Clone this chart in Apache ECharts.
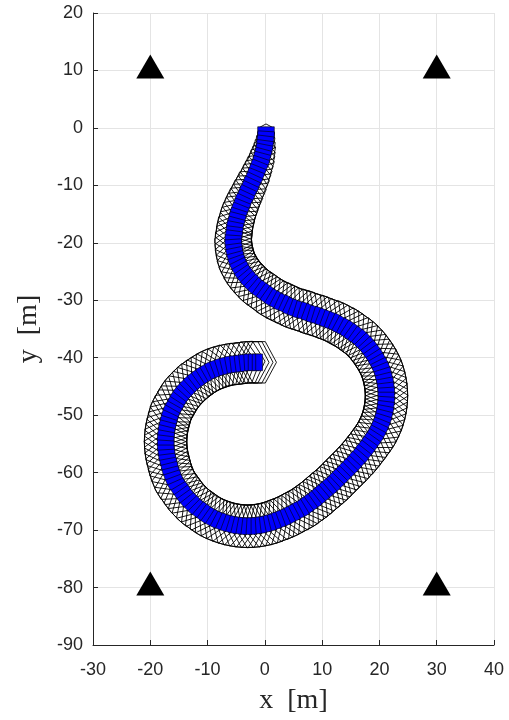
<!DOCTYPE html>
<html>
<head>
<meta charset="utf-8">
<script src="https://cdn.jsdelivr.net/npm/echarts@6.0.0/dist/echarts.min.js"></script>
<style>
  html, body { margin: 0; padding: 0; background: #ffffff; }
  #chart { width: 509px; height: 720px; }
</style>
</head>
<body>
<div id="chart"></div>
<script>
// Estimated vehicle poses along the driven path (metres)
const poseX = [
  0.2, 0.2, 0.1, 0.0, -0.1, -0.3, -0.5, -0.7, -1.0, -1.3,
  -1.6, -1.9, -2.3, -2.6, -3.0, -3.3, -3.7, -4.0, -4.3, -4.6,
  -4.8, -5.0, -5.2, -5.3, -5.4, -5.5, -5.5, -5.4, -5.3, -5.1,
  -4.9, -4.6, -4.2, -3.8, -3.3, -2.8, -2.2, -1.6, -0.9, -0.2,
  0.5, 1.2, 2.0, 2.7, 3.5, 4.2, 5.0, 5.8, 6.6, 7.4,
  8.2, 9.0, 9.8, 10.6, 11.4, 12.2, 12.9, 13.7, 14.4, 15.1,
  15.8, 16.5, 17.1, 17.7, 18.2, 18.7, 19.2, 19.6, 20.0, 20.3,
  20.6, 20.8, 21.0, 21.1, 21.2, 21.2, 21.2, 21.1, 21.0, 20.8,
  20.6, 20.3, 20.0, 19.6, 19.2, 18.7, 18.2, 17.7, 17.1, 16.6,
  16.0, 15.4, 14.8, 14.2, 13.6, 13.0, 12.4, 11.8, 11.2, 10.5,
  9.9, 9.2, 8.6, 7.9, 7.2, 6.5, 5.7, 5.0, 4.2, 3.4,
  2.6, 1.8, 1.0, 0.2, -0.6, -1.4, -2.2, -3.0, -3.8, -4.6,
  -5.4, -6.2, -7.0, -7.8, -8.6, -9.4, -10.1, -10.8, -11.5, -12.2,
  -12.8, -13.4, -14.0, -14.5, -15.0, -15.5, -15.9, -16.2, -16.5, -16.7,
  -16.9, -17.1, -17.2, -17.3, -17.3, -17.3, -17.2, -17.1, -16.9, -16.7,
  -16.5, -16.2, -15.8, -15.4, -15.0, -14.5, -14.0, -13.4, -12.8, -12.2,
  -11.5, -10.8, -10.1, -9.4, -8.6, -7.8, -7.0, -6.2, -5.4, -4.6,
  -3.8, -3.0, -2.3, -1.6, -1.0
];
const poseY = [
  -0.4, -1.2, -2.0, -2.8, -3.5, -4.3, -5.0, -5.8, -6.5, -7.3,
  -8.0, -8.8, -9.5, -10.3, -11.0, -11.8, -12.5, -13.3, -14.0, -14.8,
  -15.5, -16.3, -17.0, -17.8, -18.5, -19.3, -20.0, -20.8, -21.5, -22.3,
  -23.0, -23.7, -24.4, -25.1, -25.7, -26.3, -26.9, -27.5, -28.0, -28.5,
  -29.0, -29.5, -29.9, -30.3, -30.6, -31.0, -31.3, -31.6, -31.8, -32.1,
  -32.4, -32.6, -32.9, -33.2, -33.5, -33.8, -34.2, -34.6, -35.0, -35.5,
  -36.0, -36.5, -37.1, -37.7, -38.3, -39.0, -39.7, -40.4, -41.1, -41.8,
  -42.6, -43.4, -44.2, -45.0, -45.8, -46.6, -47.4, -48.2, -49.0, -49.8,
  -50.6, -51.4, -52.1, -52.9, -53.6, -54.3, -55.0, -55.7, -56.4, -57.1,
  -57.7, -58.4, -59.0, -59.6, -60.2, -60.8, -61.4, -62.0, -62.5, -63.1,
  -63.6, -64.2, -64.7, -65.2, -65.7, -66.2, -66.6, -67.0, -67.4, -67.8,
  -68.1, -68.4, -68.7, -68.9, -69.1, -69.2, -69.3, -69.3, -69.3, -69.2,
  -69.1, -68.9, -68.7, -68.4, -68.1, -67.7, -67.3, -66.8, -66.3, -65.8,
  -65.2, -64.6, -63.9, -63.2, -62.5, -61.8, -61.0, -60.2, -59.4, -58.6,
  -57.8, -57.0, -56.2, -55.4, -54.6, -53.8, -53.0, -52.2, -51.4, -50.6,
  -49.9, -49.1, -48.4, -47.7, -47.0, -46.3, -45.7, -45.1, -44.5, -44.0,
  -43.5, -43.0, -42.6, -42.2, -41.9, -41.6, -41.4, -41.2, -41.1, -41.0,
  -40.9, -40.8, -40.8, -40.8, -40.8
];
// Lateral spread of the position estimate at each pose (metres, full width)
const spread = [
  2.6, 2.9, 3.2, 3.5, 3.8, 4.05, 4.3, 4.5, 4.7, 4.9,
  5.05, 5.2, 5.35, 5.5, 5.6, 5.7, 5.8, 5.9, 6.0, 6.05,
  6.1, 6.15, 6.2, 6.25, 6.3, 6.35, 6.4, 6.45, 6.5, 6.55,
  6.6, 6.65, 6.7, 6.75, 6.8, 6.85, 6.9, 6.9, 6.95, 7.0,
  7.0, 7.05, 7.05, 7.1, 7.1, 7.1, 7.15, 7.15, 7.2, 7.2,
  7.2, 7.2, 7.2, 7.2, 7.2, 7.25, 7.3, 7.3, 7.3, 7.3,
  7.3, 7.3, 7.35, 7.35, 7.35, 7.4, 7.4, 7.4, 7.4, 7.4,
  7.4, 7.4, 7.4, 7.4, 7.4, 7.4, 7.4, 7.4, 7.4, 7.4,
  7.4, 7.4, 7.4, 7.4, 7.4, 7.4, 7.4, 7.4, 7.4, 7.4,
  7.4, 7.4, 7.4, 7.4, 7.4, 7.4, 7.4, 7.4, 7.4, 7.4,
  7.4, 7.4, 7.4, 7.4, 7.4, 7.4, 7.4, 7.4, 7.4, 7.4,
  7.4, 7.4, 7.4, 7.4, 7.4, 7.4, 7.4, 7.4, 7.4, 7.4,
  7.4, 7.4, 7.4, 7.4, 7.4, 7.4, 7.4, 7.4, 7.4, 7.4,
  7.4, 7.4, 7.4, 7.4, 7.4, 7.4, 7.4, 7.4, 7.4, 7.4,
  7.4, 7.4, 7.4, 7.4, 7.4, 7.4, 7.4, 7.4, 7.4, 7.4,
  7.4, 7.4, 7.4, 7.4, 7.4, 7.4, 7.4, 7.4, 7.4, 7.4,
  7.3, 7.3, 7.3, 7.3, 7.3, 7.3, 7.2, 7.2, 7.2, 7.2,
  7.2, 7.2, 7.2, 7.2, 7.2
];
// Landmark beacons
const beaconX = [-20, 30, -20, 30];
const beaconY = [10, 10, -80, -80];

// Heading at each pose from its neighbours
const heading = poseX.map((x, i) => {
  const a = Math.max(0, i - 1), b = Math.min(poseX.length - 1, i + 1);
  return Math.atan2(poseY[b] - poseY[a], poseX[b] - poseX[a]);
});
const poses = poseX.map((x, i) => [x, poseY[i], heading[i], spread[i]]);

// Vehicle body half-extents (along, across) in metres
const BODY_HALF_LEN = 0.6;
const BODY_HALF_WID = 1.45;

function placePolygon(api, cx, cy, h, pts) {
  const c = Math.cos(h), s = Math.sin(h);
  return pts.map(([u, v]) => api.coord([cx + u * c - v * s, cy + u * s + v * c]));
}

const chart = echarts.init(document.getElementById('chart'), null, { renderer: 'canvas' });

const axisColor = '#262626';
const tickFont = 'Liberation Sans, Arial, Helvetica, sans-serif';
const titleFont = 'Liberation Serif, Times New Roman, serif';

chart.setOption({
  animation: false,
  backgroundColor: '#ffffff',
  grid: { left: 93, right: 15, top: 13, bottom: 75, containLabel: false },
  xAxis: {
    type: 'value', min: -30, max: 40, interval: 10,
    name: 'x  [m]', nameLocation: 'middle', nameGap: 42,
    nameTextStyle: { fontFamily: titleFont, fontSize: 28, color: axisColor },
    axisLine: { show: true, onZero: false, lineStyle: { color: axisColor, width: 1 } },
    axisTick: { show: true, inside: true, length: 5, lineStyle: { color: axisColor } },
    axisLabel: { fontFamily: tickFont, fontSize: 18, color: axisColor, margin: 16 },
    splitLine: { show: true, lineStyle: { color: '#e4e4e4', width: 1 } }
  },
  yAxis: {
    type: 'value', min: -90, max: 20, interval: 10,
    name: 'y  [m]', nameLocation: 'middle', nameGap: 50, nameRotate: 90,
    nameTextStyle: { fontFamily: titleFont, fontSize: 28, color: axisColor },
    axisLine: { show: true, onZero: false, lineStyle: { color: axisColor, width: 1 } },
    axisTick: { show: true, inside: true, length: 5, lineStyle: { color: axisColor } },
    axisLabel: { fontFamily: tickFont, fontSize: 18, color: axisColor, margin: 10 },
    splitLine: { show: true, lineStyle: { color: '#e4e4e4', width: 1 } }
  },
  series: [
    {
      // uncertainty envelope around each pose
      type: 'custom',
      data: poses,
      encode: { x: 0, y: 1 },
      renderItem: function (params, api) {
        const cx = api.value(0), cy = api.value(1), h = api.value(2), w = api.value(3);
        const b = w / 2, a = 0.42 * w, k = 0.15 * w;
        const pts = placePolygon(api, cx, cy, h, [[a, 0], [k, b], [-k, b], [-a, 0], [-k, -b], [k, -b]]);
        return {
          type: 'polygon',
          shape: { points: pts },
          style: { fill: 'none', stroke: '#000000', lineWidth: 0.9 }
        };
      },
      z: 2
    },
    {
      // vehicle body at each pose
      type: 'custom',
      data: poses,
      encode: { x: 0, y: 1 },
      renderItem: function (params, api) {
        const cx = api.value(0), cy = api.value(1), h = api.value(2);
        const L = BODY_HALF_LEN, W = BODY_HALF_WID;
        const pts = placePolygon(api, cx, cy, h, [[L, W], [-L, W], [-L, -W], [L, -W]]);
        return {
          type: 'polygon',
          shape: { points: pts },
          style: { fill: '#0000ff', stroke: '#000000', lineWidth: 0.6 }
        };
      },
      z: 3
    },
    {
      type: 'scatter',
      data: beaconX.map((x, i) => [x, beaconY[i]]),
      symbol: 'triangle',
      symbolSize: [28, 24],
      symbolOffset: [0, -4],
      itemStyle: { color: '#000000', opacity: 1 },
      z: 4
    }
  ]
});
</script>
</body>
</html>
